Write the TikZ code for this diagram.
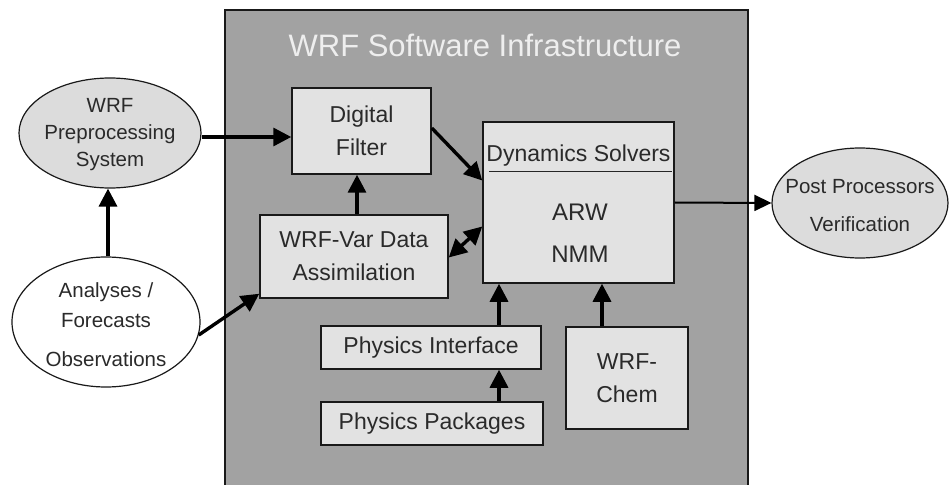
\documentclass[tikz,border=0pt]{standalone}
\usepackage{fontspec}
\setmainfont{Liberation Sans}
\usetikzlibrary{arrows.meta,shapes.geometric}
\definecolor{bigfill}{HTML}{A2A2A2}
\definecolor{boxfill}{HTML}{E2E2E2}
\definecolor{ellfill}{HTML}{DCDCDC}
\definecolor{textc}{HTML}{2A2A2A}
\definecolor{titlec}{HTML}{EEEEEE}
\begin{document}
\begin{tikzpicture}[x=1bp,y=-1bp,
  box/.style={draw=black!90, line width=1.5bp, fill=boxfill, inner sep=0pt, align=center, text=textc,
    font=\fontsize{23bp}{33bp}\selectfont},
  ell/.style={ellipse, draw=black!90, line width=1.2bp, fill=ellfill, inner sep=0pt},
  etext/.style={align=center, text=textc, inner sep=0pt, font=\fontsize{20.5bp}{27bp}\selectfont},
  tip/.tip={Triangle[length=18bp,width=18bp]},
  arr/.style={line width=3.4bp, -tip},
  darr/.style={line width=3.4bp, tip-tip},
  thinarr/.style={line width=2bp, -{Triangle[length=17bp,width=16bp]}}]
\useasboundingbox (0,0) rectangle (950,485);
\fill[white] (0,0) rectangle (950,485);
% infrastructure frame
\path[draw=black!90, line width=2bp, fill=bigfill] (225,10) rectangle (748,495);
\node[text=titlec, font=\fontsize{31bp}{36bp}\selectfont, inner sep=0pt] (title) at (485,45) {WRF Software Infrastructure};

% ellipses
\node[ell, minimum width=182bp, minimum height=110bp] (pre) at (110,133) {};
\node[etext] (preT) at (110,135) {WRF\\Preprocessing\\System};
\node[ell, fill=white, minimum width=188bp, minimum height=130bp] (ana) at (106,322) {};
\node[etext, font=\fontsize{20.5bp}{30bp}\selectfont] (anaT) at (106,325) {Analyses /\\Forecasts\\[9bp]Observations};
\node[ell, minimum width=176bp, minimum height=110bp] (post) at (860,203) {};
\node[etext, font=\fontsize{20.5bp}{38bp}\selectfont] (postT) at (860,206) {Post Processors\\Verification};

% boxes
\node[box, minimum width=139bp, minimum height=86bp] (df) at (361.5,131) {Digital\\Filter};
\node[box, minimum width=188bp, minimum height=83bp] (var) at (354,256.5) {WRF-Var Data\\Assimilation};
\node[box, minimum width=191bp, minimum height=161bp] (dyn) at (578.5,202.5) {};
\node[text=textc, inner sep=0pt, font=\fontsize{23bp}{33bp}\selectfont] (dynT) at (578.5,156) {Dynamics Solvers};
\node[text=textc, inner sep=0pt, align=center, font=\fontsize{24bp}{42bp}\selectfont] (dynB) at (580,233) {ARW\\NMM};
\draw[line width=1.4bp, black!85] ([xshift=7bp,yshift=-50bp]dyn.north west) -- ([xshift=-3bp,yshift=-50bp]dyn.north east);
\node[box, minimum width=220bp, minimum height=43bp] (phi) at (431,347.5) {Physics Interface};
\node[box, minimum width=222bp, minimum height=43bp] (php) at (432,423.5) {Physics Packages};
\node[box, minimum width=122bp, minimum height=102bp] (chem) at (627,378) {WRF-\\Chem};

% connectors
\draw[arr] ([yshift=-4bp]pre.east) -- ([yshift=-4bp]pre.east -| df.west);
\draw[arr] ([xshift=2bp]ana.north) -- ([xshift=2bp]ana.north |- pre.south);
\draw[arr] (ana.-8) -- ([yshift=5bp]var.south west);
\draw[arr] ([xshift=3bp]var.north) -- ([xshift=3bp]var.north |- df.south);
\draw[arr] ([yshift=3bp]df.east) -- ([yshift=22bp]dyn.west);
\draw[darr] ([yshift=-1bp]var.east) -- ([yshift=-24bp]dyn.west);
\draw[thinarr] (dyn.east) -- (post.west);
\draw[arr] ([xshift=68bp]phi.north) -- ([xshift=68bp]phi.north |- dyn.south);
\draw[arr] ([xshift=67bp]php.north) -- ([xshift=67bp]php.north |- phi.south);
\draw[arr] ([xshift=-25bp]chem.north) -- ([xshift=-25bp]chem.north |- dyn.south);
\end{tikzpicture}
\end{document}
